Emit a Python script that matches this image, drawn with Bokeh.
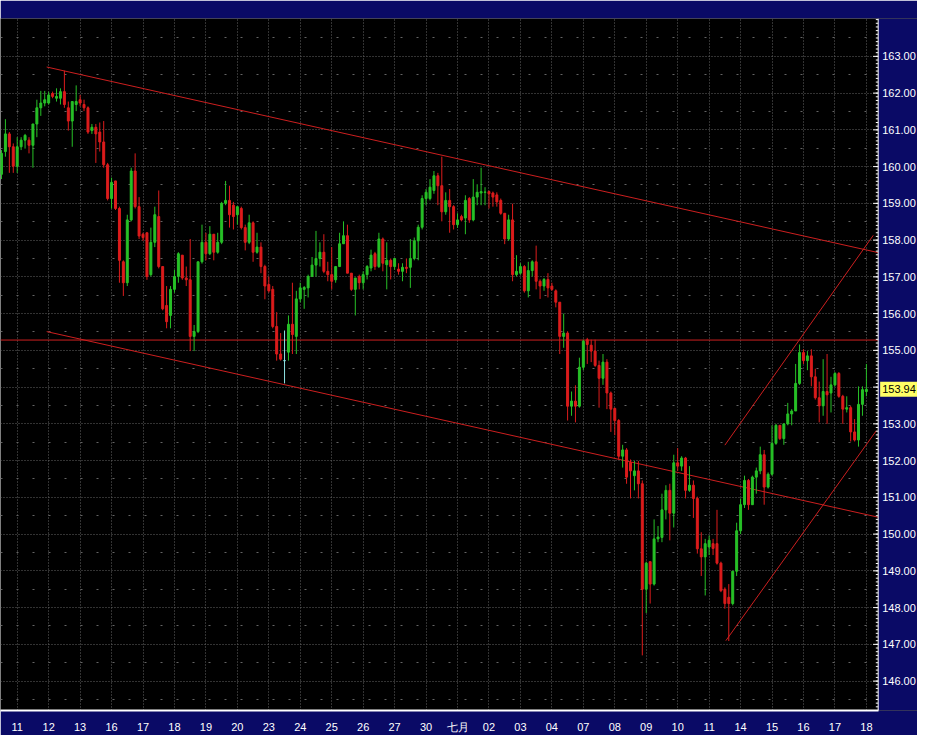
from bokeh.plotting import figure
from bokeh.models import ColumnDataSource, Range1d, FixedTicker
from bokeh.core.properties import value
from bokeh.embed import file_html
from bokeh.resources import INLINE

# ---- data (3-hour bars, 8 bars per trading day) ----
opens = [159.79, 160.41, 160.89, 160.54, 160.01, 160.54, 160.72, 160.72, 160.58, 161.16,
         161.60, 161.73, 161.73, 161.99, 161.86, 161.86, 162.04, 161.60, 161.24, 161.69,
         161.82, 161.69, 161.60, 160.98, 161.07, 160.94, 160.67, 160.05, 159.13, 159.61,
         158.86, 157.41, 156.84, 158.55, 159.88, 158.91, 158.16, 158.20, 157.06, 157.94,
         158.64, 157.28, 156.22, 155.95, 156.66, 157.01, 157.59, 156.97, 156.92, 155.38,
         155.51, 157.41, 157.94, 157.63, 158.16, 157.67, 157.94, 159.00, 159.08, 158.95,
         158.69, 158.86, 158.34, 157.94, 158.47, 157.67, 157.81, 157.28, 156.79, 156.66,
         155.65, 154.90, 154.72, 154.95, 155.71, 155.38, 156.40, 156.66, 156.70, 157.01,
         157.32, 157.50, 157.67, 157.15, 157.06, 156.92, 157.28, 157.90, 158.12, 157.10,
         156.66, 157.01, 156.84, 157.06, 157.24, 157.63, 157.28, 158.03, 157.33, 157.45,
         157.28, 157.21, 157.15, 157.26, 157.26, 157.50, 157.98, 158.35, 159.13, 159.13,
         159.35, 159.75, 159.48, 158.77, 159.08, 158.91, 158.42, 158.64, 158.60, 159.13,
         158.55, 159.17, 159.28, 159.30, 159.32, 159.28, 159.23, 159.08, 158.73, 158.03,
         158.55, 157.06, 157.10, 157.28, 156.62, 157.17, 157.41, 156.88, 156.75, 156.93,
         156.75, 156.62, 156.31, 155.38, 155.47, 153.48, 153.62, 153.48, 154.54, 155.29,
         155.14, 154.98, 154.59, 154.24, 154.68, 153.84, 153.42, 153.09, 152.12, 152.29,
         151.95, 151.59, 151.72, 151.37, 148.50, 149.25, 148.64, 149.87, 149.91, 150.66,
         151.19, 150.57, 151.94, 151.85, 152.07, 151.19, 151.33, 150.97, 149.60, 149.38,
         149.65, 149.74, 149.74, 149.21, 148.50, 148.28, 148.11, 148.99, 150.09, 150.80,
         151.46, 150.80, 151.55, 151.72, 152.16, 151.28, 151.63, 152.47, 152.96, 152.60,
         153.00, 153.27, 153.35, 154.10, 154.94, 154.72, 154.85, 154.28, 153.71, 153.49,
         153.88, 153.84, 154.06, 154.37, 153.75, 153.40, 153.44, 152.78, 152.56, 153.53,
         153.88]
highs = [160.45, 161.29, 160.94, 160.63, 160.80, 160.80, 160.89, 160.80, 161.16, 161.82,
         162.06, 162.06, 162.04, 162.04, 162.13, 162.13, 162.61, 161.77, 161.77, 162.21,
         161.95, 161.82, 161.64, 161.16, 161.16, 161.20, 161.24, 160.10, 159.70, 159.61,
         158.91, 157.45, 158.69, 159.97, 160.36, 159.17, 158.20, 158.20, 158.34, 158.91,
         159.35, 157.28, 156.75, 156.75, 157.19, 157.67, 157.59, 157.28, 158.03, 155.69,
         157.41, 158.42, 158.20, 158.38, 158.16, 158.20, 159.04, 159.61, 159.48, 159.04,
         158.91, 158.91, 158.42, 158.69, 158.51, 158.20, 157.94, 157.33, 157.01, 156.75,
         156.04, 155.47, 155.54, 155.95, 156.84, 156.62, 156.84, 156.75, 157.06, 157.54,
         158.25, 157.94, 158.16, 157.41, 157.81, 157.28, 158.20, 158.51, 158.42, 157.10,
         156.97, 157.06, 157.15, 157.32, 157.74, 157.68, 158.20, 158.07, 157.94, 157.50,
         157.50, 157.37, 157.37, 157.50, 158.03, 158.07, 158.42, 159.22, 159.39, 159.66,
         159.88, 159.83, 160.27, 159.30, 159.39, 158.95, 158.73, 158.69, 159.22, 159.17,
         159.66, 159.52, 159.97, 159.44, 159.35, 159.32, 159.30, 159.13, 158.73, 158.69,
         158.99, 157.59, 157.37, 157.32, 157.41, 157.45, 157.85, 156.93, 156.97, 157.10,
         156.84, 156.66, 156.31, 156.00, 155.52, 153.88, 154.05, 154.80, 155.29, 155.34,
         155.29, 155.29, 154.72, 154.90, 154.76, 153.88, 153.44, 153.13, 152.43, 152.34,
         152.03, 151.99, 151.99, 151.46, 149.25, 149.25, 150.40, 150.22, 151.10, 151.33,
         151.37, 152.16, 152.34, 152.12, 152.10, 151.85, 151.46, 151.02, 150.05, 149.87,
         149.96, 149.87, 150.66, 149.25, 148.55, 148.64, 148.99, 150.31, 150.97, 151.59,
         151.50, 151.59, 151.81, 152.38, 152.29, 151.68, 152.96, 153.00, 152.96, 153.00,
         153.57, 153.40, 154.63, 155.16, 155.03, 154.98, 155.03, 154.50, 154.15, 154.76,
         154.90, 154.28, 154.41, 154.41, 153.79, 153.75, 153.49, 153.13, 154.02, 154.02,
         154.63]
lows = [159.66, 160.27, 159.83, 159.83, 159.83, 160.45, 160.49, 160.36, 159.97, 160.80,
        161.38, 161.64, 161.69, 161.86, 161.77, 161.69, 161.60, 160.98, 160.54, 161.51,
        161.64, 161.51, 160.89, 160.89, 160.10, 160.41, 159.97, 159.08, 158.86, 158.82,
        156.84, 156.48, 156.75, 158.51, 158.86, 158.03, 157.98, 156.92, 157.01, 157.81,
        157.23, 156.09, 155.60, 155.60, 156.57, 156.84, 156.92, 156.75, 154.98, 154.98,
        155.47, 157.36, 157.45, 157.59, 157.45, 157.63, 157.89, 158.95, 158.34, 158.29,
        158.42, 158.29, 157.72, 157.89, 157.41, 157.63, 157.10, 156.39, 156.57, 155.60,
        154.72, 154.72, 154.10, 154.72, 154.90, 154.90, 156.31, 156.13, 156.44, 157.01,
        157.01, 157.28, 157.10, 156.88, 156.66, 156.84, 157.28, 157.90, 157.10, 156.62,
        155.95, 156.66, 156.66, 156.93, 157.15, 157.19, 157.24, 157.15, 156.66, 156.93,
        157.19, 157.06, 156.88, 157.10, 156.70, 157.45, 157.45, 158.29, 158.95, 159.08,
        159.26, 158.95, 158.51, 158.69, 158.20, 158.29, 158.33, 158.51, 158.16, 158.47,
        158.51, 158.95, 158.95, 158.95, 158.86, 158.91, 158.91, 158.69, 157.89, 157.98,
        156.88, 157.01, 157.06, 156.57, 156.44, 157.01, 156.66, 156.40, 156.62, 156.44,
        156.62, 156.17, 154.90, 155.07, 153.09, 153.22, 153.04, 153.44, 154.46, 154.63,
        154.68, 154.55, 153.44, 154.06, 153.40, 152.78, 152.69, 152.03, 151.81, 151.37,
        150.97, 151.19, 150.97, 146.70, 147.85, 148.11, 148.60, 149.78, 149.78, 150.40,
        149.83, 150.18, 151.72, 151.72, 150.97, 151.15, 150.44, 149.47, 148.86, 148.33,
        149.43, 149.43, 149.17, 148.42, 147.97, 147.09, 148.06, 148.86, 150.00, 150.71,
        150.66, 150.80, 151.10, 151.63, 150.80, 151.24, 151.59, 152.43, 152.56, 152.43,
        152.96, 152.96, 153.35, 154.06, 154.63, 154.46, 154.02, 153.66, 153.04, 153.22,
        153.00, 153.31, 154.02, 153.71, 153.00, 153.31, 152.52, 152.52, 152.38, 153.22,
        153.75]
closes = [160.36, 160.89, 160.54, 160.01, 160.54, 160.72, 160.85, 160.58, 161.16, 161.60,
          161.73, 161.82, 161.95, 161.91, 161.91, 162.04, 161.69, 161.24, 161.77, 161.77,
          161.73, 161.60, 160.94, 161.07, 160.89, 160.67, 160.05, 159.13, 159.57, 158.86,
          157.45, 156.84, 158.55, 159.88, 158.91, 158.11, 158.07, 157.01, 157.94, 158.69,
          157.28, 156.13, 155.78, 156.66, 157.01, 157.63, 156.97, 156.92, 155.38, 155.51,
          157.41, 157.94, 157.63, 158.16, 157.67, 157.94, 159.00, 159.08, 158.69, 158.64,
          158.91, 158.34, 157.94, 158.47, 157.67, 157.81, 157.28, 156.75, 156.62, 155.65,
          154.90, 154.76, 154.72, 155.71, 155.43, 156.40, 156.70, 156.71, 157.01, 157.32,
          157.50, 157.67, 157.15, 157.06, 156.88, 157.28, 157.90, 158.12, 157.10, 156.66,
          156.97, 156.84, 157.06, 157.28, 157.59, 157.28, 158.03, 157.37, 157.45, 157.28,
          157.50, 157.15, 157.26, 157.23, 157.50, 157.98, 158.35, 159.13, 159.30, 159.44,
          159.75, 159.48, 158.77, 159.08, 158.91, 158.42, 158.55, 158.55, 159.08, 158.55,
          159.17, 159.30, 159.32, 159.31, 159.26, 159.17, 159.04, 158.73, 158.03, 158.55,
          157.06, 157.15, 157.28, 156.62, 157.17, 157.41, 156.88, 156.75, 156.93, 156.70,
          156.66, 156.31, 155.38, 155.47, 153.48, 153.62, 153.48, 154.54, 155.25, 155.16,
          154.98, 154.59, 154.24, 154.68, 153.84, 153.40, 153.09, 152.12, 152.29, 151.55,
          151.72, 151.72, 151.37, 148.50, 149.21, 148.64, 149.87, 149.92, 150.66, 151.19,
          150.57, 151.94, 151.85, 152.07, 151.19, 151.33, 150.97, 149.60, 149.38, 149.74,
          149.83, 149.61, 149.21, 148.46, 148.11, 148.11, 148.99, 150.09, 150.80, 151.46,
          150.80, 151.55, 151.72, 152.16, 151.28, 151.63, 152.47, 152.96, 152.60, 153.00,
          153.27, 153.35, 154.10, 154.94, 154.72, 154.85, 154.28, 153.71, 153.49, 153.88,
          153.79, 154.06, 154.37, 153.75, 153.40, 153.44, 152.78, 152.56, 153.53, 153.93,
          153.94]

day_labels = ["11", "12", "13", "16", "17", "18", "19", "20", "23", "24", "25", "26", "27",
              "30", "七月", "02", "03", "04", "07", "08", "09", "10", "11", "14", "15", "16",
              "17", "18"]
bars_per_day = 8
first_day_bar = 4

price_ticks = [146, 147, 148, 149, 150, 151, 152, 153, 154, 155, 156, 157, 158, 159, 160,
               161, 162, 163]
last_price = 153.94

# hand-drawn trend lines (bar index, price)
trend_x0 = [11.5, 11.5, 184.0, 184.25]
trend_y0 = [162.71, 155.51, 152.42, 147.10]
trend_x1 = [223.0, 223.0, 221.75, 222.5]
trend_y1 = [157.66, 150.46, 158.13, 152.81]
level_price = 155.28

# ---- layout / styling ----
NAVY = "#0a0a66"
UP = "#27c027"
DOWN = "#dc1c1c"
DOJI = "#8fe3e3"
TREND = "#cc1f1f"
GRID = "#646464"
FONT = "Liberation Sans"

X_START, PANEL_X, X_END = -0.25, 223.0, 233.0   # chart area | price scale panel
Y_START, Y_END = 145.20, 164.03
TICK_MAJOR, TICK_MINOR = 1.3, 0.6               # tick lengths in bar units

n = len(opens)
xs = list(range(n))
colors = [DOJI if c == o else (UP if c > o else DOWN) for o, c in zip(opens, closes)]
src = ColumnDataSource(dict(
    x=xs, high=highs, low=lows,
    top=[max(o, c) for o, c in zip(opens, closes)],
    bottom=[min(o, c) for o, c in zip(opens, closes)],
    color=colors,
))

p = figure(width=917, height=735, output_backend="svg", toolbar_location=None,
           x_range=Range1d(X_START, X_END), y_range=Range1d(Y_START, Y_END),
           y_axis_location=None,
           min_border_left=0, min_border_right=0, min_border_top=18, min_border_bottom=21,
           background_fill_color="black", border_fill_color=NAVY, outline_line_color=None)

# grid
day_pos = [first_day_bar + bars_per_day * k for k in range(len(day_labels))]
p.xaxis.ticker = FixedTicker(ticks=day_pos)
p.xaxis.major_label_overrides = {pos: lab for pos, lab in zip(day_pos, day_labels)}
p.xaxis.bounds = (X_START, PANEL_X)
p.xgrid.ticker = FixedTicker(ticks=day_pos)
p.xgrid.grid_line_color = GRID
p.xgrid.grid_line_dash = "1 2"

p.ygrid.ticker = FixedTicker(ticks=price_ticks,
                             minor_ticks=[t + 0.5 for t in range(145, 164)])
p.ygrid.grid_line_color = GRID
p.ygrid.grid_line_dash = "1 2"
p.ygrid.minor_grid_line_color = GRID
p.ygrid.minor_grid_line_dash = "2 14"

# time axis
p.xaxis.axis_line_color = "white"
p.xaxis.axis_line_width = 2
p.xaxis.major_tick_line_color = None
p.xaxis.minor_tick_line_color = None
p.xaxis.major_label_text_color = "white"
p.xaxis.major_label_text_font = FONT
p.xaxis.major_label_text_font_size = "11px"
p.xaxis.major_label_standoff = 4

# trend lines and horizontal level
p.segment(x0=trend_x0, y0=trend_y0, x1=trend_x1, y1=trend_y1, line_color=TREND, line_width=1)
p.segment(x0=[X_START], y0=[level_price], x1=[PANEL_X], y1=[level_price],
          line_color=TREND, line_width=1)

# candles
p.segment(x0="x", y0="high", x1="x", y1="low", source=src, line_color="color", line_width=1)
p.vbar(x="x", width=0.5, top="top", bottom="bottom", source=src,
       fill_color="color", line_color="color", line_width=1)

# price scale panel (right)
p.quad(left=[PANEL_X], right=[X_END], bottom=[Y_START], top=[Y_END],
       fill_color=NAVY, line_color=None)
p.segment(x0=[PANEL_X], y0=[Y_START], x1=[PANEL_X], y1=[Y_END], line_color="white", line_width=1)
minor_levels = [v / 10 for v in range(1452, 1641)]
p.segment(x0=[PANEL_X - TICK_MINOR] * len(minor_levels), y0=minor_levels,
          x1=[PANEL_X] * len(minor_levels), y1=minor_levels, line_color="white", line_width=1)
p.segment(x0=[PANEL_X - TICK_MAJOR] * len(price_ticks), y0=price_ticks,
          x1=[PANEL_X] * len(price_ticks), y1=price_ticks, line_color="white", line_width=1)
p.text(x=[PANEL_X] * len(price_ticks), y=price_ticks,
       text=[f"{t:.2f}" for t in price_ticks], x_offset=4,
       text_align="left", text_baseline="middle", text_color="white",
       text_font=value(FONT), text_font_size="11px")

# last price marker
p.rect(x=[(PANEL_X + X_END) / 2 + 0.25], y=[last_price], width=[X_END - PANEL_X - 0.5],
       height=15, height_units="screen", fill_color="#ffff66", line_color=None)
p.text(x=[PANEL_X], y=[last_price], text=[f"{last_price:.2f}"], x_offset=4,
       text_align="left", text_baseline="middle", text_color="black",
       text_font=value(FONT), text_font_size="11px")

open("out.html", "w").write(file_html(p, INLINE))
